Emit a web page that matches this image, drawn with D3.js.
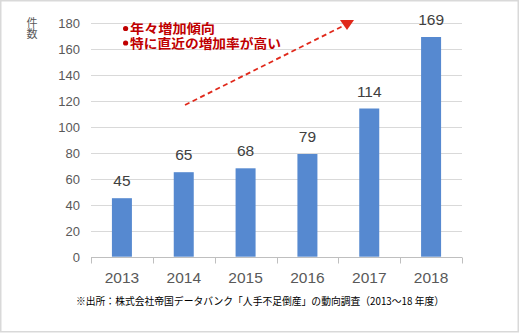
<!DOCTYPE html>
<html><head><meta charset="utf-8">
<script src="https://cdn.jsdelivr.net/npm/d3@7"></script>
<style>html,body{margin:0;padding:0;background:#fff;}svg{display:block;}</style>
</head><body>
<script>
const years = ["2013","2014","2015","2016","2017","2018"];
const counts = [45, 65, 68, 79, 114, 169];
const yTicks = [0,20,40,60,80,100,120,140,160,180];
const unitLabel = "件数";
const notes = ["年々増加傾向","特に直近の増加率が高い"];
const noteWidths = [85, 151];
const source = "※出所：株式会社帝国データバンク「人手不足倒産」の動向調査（2013～18 年度）";

const W = 520, H = 334;
const svg = d3.select("body").append("svg").attr("width", W).attr("height", H);
const latin = "'Liberation Sans', Arial, sans-serif";
const cjk = "'Noto Sans CJK JP', sans-serif";

svg.append("rect").attr("x",0.75).attr("y",0.75).attr("width",517.5).attr("height",331)
  .attr("fill","#fff").attr("stroke","#d9d9d9").attr("stroke-width",1.5);

const x = d3.scaleBand().domain(years).range([91, 462]);
const y = d3.scaleLinear().domain([0,180]).range([256.7, 22.7]);

// gridlines
svg.append("g").selectAll("line").data(yTicks.filter(d=>d>0)).join("line")
  .attr("x1",91).attr("x2",462).attr("y1",d=>Math.round(y(d))+0.5).attr("y2",d=>Math.round(y(d))+0.5)
  .attr("stroke","#d9d9d9").attr("stroke-width",1);

// y axis labels
const yAxis = d3.axisLeft(y).tickValues(yTicks).tickSize(0).tickPadding(0);
const gy = svg.append("g").attr("transform","translate(80,0)").call(yAxis);
gy.select(".domain").remove();
gy.selectAll("text").attr("font-family",latin).attr("font-size",13).attr("fill","#595959").attr("dy","0.35em");

// bars
svg.append("g").selectAll("rect").data(counts).join("rect")
  .attr("x",(d,i)=>x(years[i])+x.bandwidth()/2-10).attr("width",20)
  .attr("y",d=>y(d)).attr("height",d=>y(0)-y(d)).attr("fill","#5689d0");

// x axis
const xAxis = d3.axisBottom(x).tickSize(0).tickPadding(0);
const gx = svg.append("g").attr("transform",`translate(0,${Math.round(y(0))+0.5})`).call(xAxis);
gx.select(".domain").attr("stroke","#bfbfbf").attr("d","M91,0H462");
gx.selectAll("text").attr("font-family",latin).attr("font-size",15.5).attr("fill","#595959").attr("dy","0").attr("y",25);
// category boundary ticks
const bounds = years.map(d=>x(d)).concat([462]);
gx.selectAll(".bt").data(bounds).join("line").attr("class","bt")
  .attr("x1",d=>Math.round(d)+0.5).attr("x2",d=>Math.round(d)+0.5).attr("y1",0).attr("y2",6)
  .attr("stroke","#bfbfbf");

// data labels
svg.append("g").selectAll("text").data(counts).join("text")
  .attr("x",(d,i)=>x(years[i])+x.bandwidth()/2).attr("y",d=>y(d)-12)
  .attr("text-anchor","middle").attr("font-family",latin).attr("font-size",15.5).attr("fill","#404040")
  .text(d=>d);

// unit label (vertical writing)
svg.append("text").attr("x",32).attr("y",17.5)
  .style("writing-mode","vertical-rl").attr("letter-spacing","-0.5")
  .attr("font-family",cjk).attr("font-size",11).attr("fill","#595959").text(unitLabel);

// annotation
const ann = svg.append("g");
ann.selectAll("circle").data(notes).join("circle")
  .attr("cx",125.6).attr("cy",(d,i)=>28.5+i*14.5).attr("r",2.6).attr("fill","#c00000");
ann.append("text")
  .attr("font-family",cjk).attr("font-size",12.8).attr("font-weight","bold").attr("fill","#c00000")
  .selectAll("tspan").data(notes).join("tspan")
  .attr("x",130).attr("y",(d,i)=>33+i*14.5)
  .attr("textLength",(d,i)=>noteWidths[i]).attr("lengthAdjust","spacingAndGlyphs")
  .text(d=>d);

// dashed arrow
svg.append("line").attr("x1",185).attr("y1",105).attr("x2",343).attr("y2",26)
  .attr("stroke","#e0281a").attr("stroke-width",1.8).attr("stroke-dasharray","5,3.5");
svg.append("path").attr("d","M340,20L354,20L347,30Z").attr("fill","#e0281a");

// source
svg.append("text").attr("x",76).attr("y",305).attr("font-family",cjk).attr("font-size",10.5)
  .attr("fill","#000").attr("textLength",368).attr("lengthAdjust","spacingAndGlyphs").text(source);
</script>
</body></html>
